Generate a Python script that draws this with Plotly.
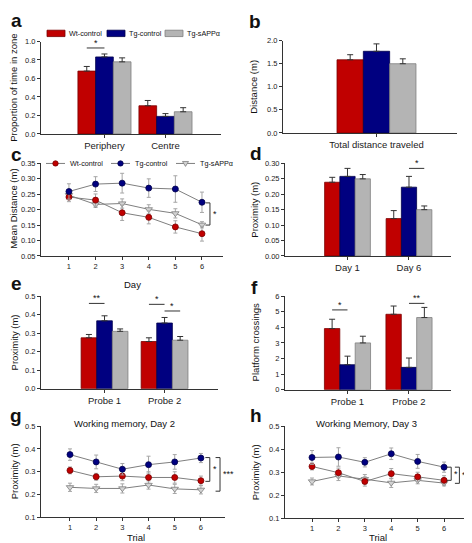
import plotly.graph_objects as go

W, H = 472, 543
FONT = "Arial, 'Liberation Sans', Helvetica, sans-serif"

# ---------------- data ----------------
groups = ["Wt-control", "Tg-control", "Tg-sAPPα"]
bar_fill = ["#C00000", "#000080", "#B4B4B4"]
bar_edge = ["#7A0000", "#00004A", "#7F7F7F"]
mk_fill = ["#C00000", "#000080", "#D2D2D2"]
mk_edge = ["#7A0000", "#00004A", "#7F7F7F"]
mk_symbol = ["circle", "circle", "triangle-down"]

# (a) proportion of time in zone
zone_cats = ["Periphery", "Centre"]
zone_wt = [0.68, 0.305]
zone_tg = [0.833, 0.19]
zone_sapp = [0.78, 0.24]
zone_wt_err = [0.05, 0.057]
zone_tg_err = [0.032, 0.03]
zone_sapp_err = [0.043, 0.044]

# (b) total distance
dist_cats = ["Total distance traveled"]
dist_wt = [1.583]
dist_tg = [1.767]
dist_sapp = [1.498]
dist_wt_err = [0.11]
dist_tg_err = [0.16]
dist_sapp_err = [0.106]

# (c) mean distance by day
days = [1, 2, 3, 4, 5, 6]
md_wt = [0.241, 0.231, 0.190, 0.175, 0.144, 0.122]
md_tg = [0.259, 0.283, 0.286, 0.270, 0.267, 0.224]
md_sapp = [0.247, 0.217, 0.220, 0.201, 0.188, 0.151]
md_wt_err = [0.015, 0.020, 0.025, 0.021, 0.020, 0.024]
md_tg_err = [0.025, 0.024, 0.032, 0.030, 0.043, 0.033]
md_sapp_err = [0.015, 0.010, 0.015, 0.015, 0.015, 0.010]

# (d) proximity day 1 / day 6
prox_day_cats = ["Day 1", "Day 6"]
pd_wt = [0.239, 0.121]
pd_tg = [0.258, 0.223]
pd_sapp = [0.250, 0.150]
pd_wt_err = [0.016, 0.026]
pd_tg_err = [0.026, 0.035]
pd_sapp_err = [0.014, 0.012]

# (e) proximity probe trials
probe_cats = ["Probe 1", "Probe 2"]
pp_wt = [0.275, 0.255]
pp_tg = [0.367, 0.355]
pp_sapp = [0.310, 0.262]
pp_wt_err = [0.018, 0.020]
pp_tg_err = [0.027, 0.030]
pp_sapp_err = [0.013, 0.020]

# (f) platform crossings
pc_wt = [3.92, 4.84]
pc_tg = [1.60, 1.43]
pc_sapp = [3.00, 4.63]
pc_wt_err = [0.60, 0.53]
pc_tg_err = [0.55, 0.60]
pc_sapp_err = [0.43, 0.65]

# (g) working memory day 2
trials = [1, 2, 3, 4, 5, 6]
wm2_wt = [0.306, 0.278, 0.281, 0.275, 0.275, 0.261]
wm2_tg = [0.375, 0.343, 0.311, 0.331, 0.343, 0.360]
wm2_sapp = [0.232, 0.227, 0.227, 0.242, 0.225, 0.221]
wm2_wt_err = [0.015, 0.015, 0.020, 0.025, 0.025, 0.020]
wm2_tg_err = [0.025, 0.030, 0.025, 0.037, 0.032, 0.020]
wm2_sapp_err = [0.018, 0.018, 0.020, 0.018, 0.020, 0.018]

# (h) working memory day 3
wm3_wt = [0.325, 0.298, 0.260, 0.294, 0.280, 0.265]
wm3_tg = [0.364, 0.366, 0.343, 0.380, 0.347, 0.322]
wm3_sapp = [0.260, 0.284, 0.270, 0.254, 0.265, 0.253]
wm3_wt_err = [0.015, 0.020, 0.020, 0.022, 0.020, 0.020]
wm3_tg_err = [0.030, 0.040, 0.020, 0.025, 0.030, 0.022]
wm3_sapp_err = [0.015, 0.020, 0.020, 0.020, 0.015, 0.012]

# significance: (category index, group i, group j, y, label)
sig_a = [(0, 0, 1, 0.93, "*")]
sig_d = [(1, 1, 2, 0.284, "*")]
sig_e = [(0, 0, 1, 0.461, "**"), (1, 0, 1, 0.456, "*"), (1, 1, 2, 0.42, "*")]
sig_f = [(0, 0, 1, 5.12, "*"), (1, 0, 1, 6.06, "**"), (1, 1, 2, 5.54, "**")]
# brackets for line panels: (x, y_top, y_bottom, label)
br_c = [(6.3, 0.222, 0.150, "*")]
br_g = [(6.34, 0.362, 0.258, "*"), (6.73, 0.362, 0.215, "***")]
br_h = [(6.27, 0.322, 0.265, "*"), (6.58, 0.322, 0.252, "***")]

# ---------------- helpers ----------------
fig = go.Figure()


def px(x):
    return x / W


def py(y):
    return 1 - y / H


def axname(n, letter):
    return f"{letter}axis" if n == 1 else f"{letter}axis{n}"


def ref(n, letter):
    return letter if n == 1 else f"{letter}{n}"


def base_axis():
    return dict(showline=True, linecolor="#333", linewidth=1, ticks="outside",
                ticklen=3, tickwidth=1, tickcolor="#333", showgrid=False,
                zeroline=False, tickfont=dict(size=7.5, color="#222", family=FONT),
                fixedrange=True)


def add_axes(n, xpx, ypx, xrange, yrange, yticks, yfmt, xtickvals, xticktext, xfont):
    xa = base_axis()
    xa.update(domain=[px(xpx[0]), px(xpx[1])], range=xrange, anchor=ref(n, "y"),
              tickvals=xtickvals, ticktext=xticktext,
              tickfont=dict(size=xfont, color="#222", family=FONT))
    ya = base_axis()
    ya.update(domain=[py(ypx[1]), py(ypx[0])], range=yrange, anchor=ref(n, "x"),
              tickvals=yticks, ticktext=[format(v, yfmt) for v in yticks])
    fig.layout[axname(n, "x")] = xa
    fig.layout[axname(n, "y")] = ya


def add_bars(n, means, errs, w, sigs):
    pos = list(range(len(means[0])))
    for k in range(3):
        fig.add_trace(go.Bar(
            x=pos, y=means[k], width=w, offset=(k - 1.5) * w, name=groups[k],
            marker=dict(color=bar_fill[k], line=dict(color=bar_edge[k], width=0.8)),
            error_y=dict(type="data", array=errs[k], arrayminus=[0] * len(pos),
                         symmetric=False, color="#333", thickness=1, width=3),
            xaxis=ref(n, "x"), yaxis=ref(n, "y"), showlegend=False))
    for (c, i, j, y, lab) in sigs:
        x0 = c + (i - 1) * w
        x1 = c + (j - 1) * w
        fig.add_shape(type="line", x0=x0, x1=x1, y0=y, y1=y, xref=ref(n, "x"),
                      yref=ref(n, "y"), line=dict(color="#333", width=1))
        fig.add_annotation(x=(x0 + x1) / 2, y=y, xref=ref(n, "x"), yref=ref(n, "y"),
                           text=lab, showarrow=False, yanchor="middle", yshift=5,
                           font=dict(size=9, color="#111", family=FONT))


def add_lines(n, x, means, errs, brackets):
    for k in [2, 0, 1]:
        fig.add_trace(go.Scatter(
            x=x, y=means[k], mode="lines+markers", name=groups[k],
            line=dict(color="#7F7F7F", width=1),
            marker=dict(symbol=mk_symbol[k], size=6 if k < 2 else 6.5,
                        color=mk_fill[k], line=dict(color=mk_edge[k], width=0.8)),
            error_y=dict(type="data", array=errs[k], color="#A6A6A6", thickness=1, width=2),
            xaxis=ref(n, "x"), yaxis=ref(n, "y"), showlegend=False))
    for (bx, yt, yb, lab) in brackets:
        arm = 0.17
        fig.add_shape(type="path",
                      path=f"M{bx - arm},{yt} L{bx},{yt} L{bx},{yb} L{bx - arm},{yb}",
                      xref=ref(n, "x"), yref=ref(n, "y"),
                      line=dict(color="#333", width=1))
        fig.add_annotation(x=bx + 0.04, y=(yt + yb) / 2, xref=ref(n, "x"),
                           yref=ref(n, "y"), text=lab, showarrow=False,
                           xanchor="left", yanchor="middle",
                           font=dict(size=9, color="#111", family=FONT))


def text(x, y, s, size=9.5, angle=0, bold=False, anchor="center"):
    fig.add_annotation(x=px(x), y=py(y), xref="paper", yref="paper", text=s,
                       showarrow=False, textangle=angle, xanchor=anchor, yanchor="middle",
                       font=dict(size=size, color="#111", family=FONT,
                                 weight="bold" if bold else "normal"))


# ---------------- panels ----------------
# a
add_axes(1, (33, 213), (30, 124), [-1.04, 1.91], [0, 1.0],
         [0, 0.2, 0.4, 0.6, 0.8, 1.0], ".1f", [0, 1], zone_cats, 9.5)
add_bars(1, [zone_wt, zone_tg, zone_sapp], [zone_wt_err, zone_tg_err, zone_sapp_err],
         0.29, sig_a)
# b
add_axes(2, (275, 449), (29, 123), [-1.03, 0.887], [0, 2.0],
         [0, 0.5, 1.0, 1.5, 2.0], ".1f", [0], dist_cats, 9.5)
add_bars(2, [dist_wt, dist_tg, dist_sapp], [dist_wt_err, dist_tg_err, dist_sapp_err],
         0.29, [])
# c
add_axes(3, (33, 215), (154, 248), [-0.05, 6.79], [0.05, 0.35],
         [0.05, 0.10, 0.15, 0.20, 0.25, 0.30, 0.35], ".2f", days, [str(d) for d in days], 7.5)
add_lines(3, days, [md_wt, md_tg, md_sapp], [md_wt_err, md_tg_err, md_sapp_err], br_c)
# d
add_axes(4, (277, 443), (154, 248), [-1.016, 1.683], [0, 0.30],
         [0, 0.05, 0.10, 0.15, 0.20, 0.25, 0.30], ".2f", [0, 1], prox_day_cats, 9.5)
add_bars(4, [pd_wt, pd_tg, pd_sapp], [pd_wt_err, pd_tg_err, pd_sapp_err], 0.248, sig_d)
# e
add_axes(5, (33, 210), (289, 383), [-1.058, 1.89], [0, 0.5],
         [0, 0.1, 0.2, 0.3, 0.4, 0.5], ".1f", [0, 1], probe_cats, 9.5)
add_bars(5, [pp_wt, pp_tg, pp_sapp], [pp_wt_err, pp_tg_err, pp_sapp_err], 0.26, sig_e)
# f
add_axes(6, (277, 443), (289, 384), [-1.016, 1.683], [0, 6],
         [0, 1, 2, 3, 4, 5, 6], ".0f", [0, 1], probe_cats, 9.5)
add_bars(6, [pc_wt, pc_tg, pc_sapp], [pc_wt_err, pc_tg_err, pc_sapp_err], 0.25, sig_f)
# g
add_axes(7, (33, 217), (421, 514), [-0.107, 6.92], [0.1, 0.5],
         [0.1, 0.2, 0.3, 0.4, 0.5], ".1f", trials, [str(t) for t in trials], 7.5)
add_lines(7, trials, [wm2_wt, wm2_tg, wm2_sapp], [wm2_wt_err, wm2_tg_err, wm2_sapp_err], br_g)
# h
add_axes(8, (277, 458), (421, 515), [-0.023, 6.83], [0.1, 0.5],
         [0.1, 0.2, 0.3, 0.4, 0.5], ".1f", trials, [str(t) for t in trials], 7.5)
add_lines(8, trials, [wm3_wt, wm3_tg, wm3_sapp], [wm3_wt_err, wm3_tg_err, wm3_sapp_err], br_h)

# ---------------- axis titles & panel texts ----------------
text(6, 77, "Proportion of time in zone", angle=-90)
text(246, 76, "Distance (m)", angle=-90)
text(6, 200, "Mean Distance (m)", angle=-90)
text(247, 201, "Proximity (m)", angle=-90)
text(6, 336, "Proximity (m)", angle=-90)
text(247, 336, "Platform crossings", angle=-90)
text(6, 467, "Proximity (m)", angle=-90)
text(247, 468, "Proximity (m)", angle=-90)
text(124, 277, "Day")
text(128, 534, "Trial")
text(370, 534, "Trial")
text(116, 418, "Working memory, Day 2")
text(358, 418, "Working Memory, Day 3")

for (lx, ly, s) in [(8, 9, "a"), (247, 10, "b"), (8, 145, "c"), (248, 144, "d"),
                    (8, 276, "e"), (246, 280, "f"), (8, 410, "g"), (248, 410, "h")]:
    text(lx, ly, s, size=19, bold=True)

# ---------------- legends (manual) ----------------
box_x = [39, 99, 157]
for k in range(3):
    fig.add_shape(type="rect", xref="paper", yref="paper",
                  x0=px(box_x[k]), x1=px(box_x[k] + 18), y0=py(25), y1=py(18.5),
                  fillcolor=bar_fill[k], line=dict(color=bar_edge[k], width=0.8))
    text(box_x[k] + 20, 21.5, groups[k], size=7.2, anchor="left")

line_x = [38, 103, 168]
for k in range(3):
    x0 = line_x[k]
    fig.add_shape(type="line", xref="paper", yref="paper", x0=px(x0), x1=px(x0 + 19),
                  y0=py(154), y1=py(154), line=dict(color="#7F7F7F", width=1))
    cx = x0 + 9.5
    if k < 2:
        fig.add_shape(type="circle", xref="paper", yref="paper",
                      x0=px(cx - 2.7), x1=px(cx + 2.7), y0=py(156.7), y1=py(151.3),
                      fillcolor=mk_fill[k], line=dict(color=mk_edge[k], width=0.8))
    else:
        fig.add_shape(type="path", xref="paper", yref="paper",
                      path=f"M{px(cx - 3)},{py(152)} L{px(cx + 3)},{py(152)} L{px(cx)},{py(157)} Z",
                      fillcolor=mk_fill[k], line=dict(color=mk_edge[k], width=0.8))
    text(x0 + 22, 154, groups[k], size=7.2, anchor="left")

fig.update_layout(width=W, height=H, margin=dict(l=0, r=0, t=0, b=0),
                  paper_bgcolor="white", plot_bgcolor="white", showlegend=False,
                  barmode="overlay", font=dict(family=FONT, color="#111"))

fig.write_html("out.html")
